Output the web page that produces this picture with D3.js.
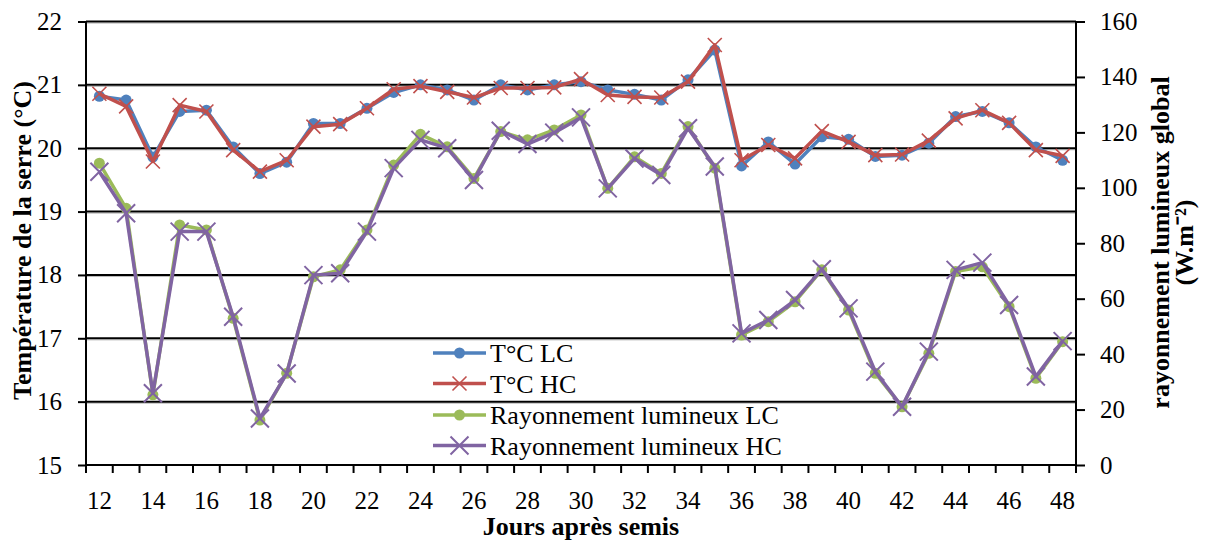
<!DOCTYPE html>
<html><head><meta charset="utf-8">
<script src="https://cdn.jsdelivr.net/npm/d3@7"></script>
<style>body{margin:0;background:#fff}svg{display:block}
svg text{font-family:"Liberation Serif","Times New Roman",serif !important;fill:#000}</style>
</head><body>
<svg id="c" width="1207" height="540"></svg>
<script>
const days = [12,13,14,15,16,17,18,19,20,21,22,23,24,25,26,27,28,29,30,31,32,33,34,35,36,37,38,39,40,41,42,43,44,45,46,47,48];
const tempLC = [20.82,20.76,19.86,20.58,20.60,20.02,19.60,19.78,20.39,20.39,20.63,20.88,21.00,20.92,20.76,21.00,20.92,21.00,21.05,20.92,20.85,20.76,21.08,21.55,19.72,20.10,19.75,20.18,20.14,19.87,19.89,20.08,20.50,20.58,20.40,20.02,19.81];
const tempHC = [20.86,20.66,19.79,20.68,20.58,19.97,19.63,19.81,20.34,20.38,20.63,20.93,20.98,20.89,20.80,20.95,20.95,20.96,21.09,20.84,20.81,20.80,21.05,21.63,19.81,20.05,19.84,20.27,20.10,19.89,19.90,20.12,20.47,20.60,20.40,19.97,19.88];
const radLC = [108.9,92.6,25.3,86.6,84.8,52.9,16.2,33.1,67.9,70.4,84.8,108.2,119.3,114.8,103.4,120.3,117.3,120.9,126.3,99.8,111.2,105.2,122.1,107.1,46.9,51.7,58.9,70.4,55.9,33.1,21.0,40.3,69.8,71.5,57.1,31.3,44.5];
const radHC = [105.8,90.8,25.9,84.2,84.2,53.5,16.8,33.0,68.5,69.2,84.2,107.1,117.3,114.3,102.8,120.6,115.8,119.9,125.4,99.8,110.6,104.6,121.5,107.7,47.5,52.3,59.5,70.6,56.5,33.7,21.0,40.9,70.4,73.0,57.7,31.9,44.7];
const leftTicks = [15,16,17,18,19,20,21,22];
const rightTicks = [0,20,40,60,80,100,120,140,160];
const xLabelDays = [12,14,16,18,20,22,24,26,28,30,32,34,36,38,40,42,44,46,48];
const seriesNames = ["T°C LC","T°C HC","Rayonnement lumineux LC","Rayonnement lumineux HC"];

const L=86, R=1076, T=21.5, B=465;
const svg = d3.select("#c");
const x = d3.scaleBand().domain(days).range([L,R]).padding(0);
const yL = d3.scaleLinear().domain([15,22]).range([B,T]);
const yR = d3.scaleLinear().domain([0,160]).range([B,T]);
const cx = d => x(d)+x.bandwidth()/2;

// gridlines
const g = svg.append("g");
leftTicks.filter(v=>v>15).forEach(v=>{
  g.append("line").attr("x1",L).attr("x2",R).attr("y1",yL(v)+1.6).attr("y2",yL(v)+1.6).attr("stroke","#bbb").attr("stroke-width",1);
  g.append("line").attr("x1",L).attr("x2",R).attr("y1",yL(v)).attr("y2",yL(v)).attr("stroke","#000").attr("stroke-width",2);
});

// axes
const axL = d3.axisLeft(yL).tickValues(leftTicks).tickSize(8).tickPadding(16).tickFormat(d3.format("d"));
const gL = svg.append("g").attr("transform",`translate(${L},0)`).call(axL);
const axR = d3.axisRight(yR).tickValues(rightTicks).tickSize(9).tickPadding(15).tickFormat(d3.format("d"));
const gR = svg.append("g").attr("transform",`translate(${R},0)`).call(axR);
const axB = d3.axisBottom(x).tickValues(xLabelDays).tickSize(0).tickPadding(26);
const gB = svg.append("g").attr("transform",`translate(0,${B})`).call(axB);
[gL,gR,gB].forEach(a=>{
  a.attr("font-family",null).attr("font-size",null);
  a.selectAll("path.domain").attr("stroke","#000").attr("stroke-width",2);
  a.selectAll(".tick line").attr("stroke","#000").attr("stroke-width",2);
  a.selectAll("text").style("font-size","25px").attr("fill","#000");
});
gL.selectAll(".domain").attr("d",`M0,${B}V${T}`);
gR.selectAll(".domain").attr("d",`M0,${B}V${T}`);
gB.selectAll(".domain").attr("d",`M${L},0H${R}`);
// category boundary ticks
const bounds = days.map(d=>x(d)).concat([R]);
svg.append("g").selectAll("line").data(bounds).join("line")
  .attr("x1",d=>d).attr("x2",d=>d).attr("y1",B).attr("y2",B+8)
  .attr("stroke","#000").attr("stroke-width",2);

// series
function lineSeries(vals, yS, color, width){
  const ln = d3.line().x((v,i)=>cx(days[i])).y(v=>yS(v));
  svg.append("path").datum(vals).attr("d",ln).attr("fill","none")
    .attr("stroke",color).attr("stroke-width",width).attr("stroke-linejoin","round");
}
function circles(vals,yS,color,r){
  svg.append("g").selectAll("circle").data(vals).join("circle")
    .attr("cx",(v,i)=>cx(days[i])).attr("cy",v=>yS(v)).attr("r",r).attr("fill",color);
}
function crosses(vals,yS,color,s,w){
  svg.append("g").selectAll("path").data(vals).join("path")
    .attr("d",(v,i)=>{const X=cx(days[i]),Y=yS(v);return `M${X-s},${Y-s}L${X+s},${Y+s}M${X-s},${Y+s}L${X+s},${Y-s}`;})
    .attr("stroke",color).attr("stroke-width",w).attr("fill","none");
}
const cBlue="#4F81BD", cRed="#C0504D", cGreen="#9BBB59", cPurple="#8064A2";
lineSeries(tempLC,yL,cBlue,3.5); circles(tempLC,yL,cBlue,5.5);
lineSeries(tempHC,yL,cRed,3.5); crosses(tempHC,yL,cRed,7,1.6);
lineSeries(radLC,yR,cGreen,3.5); circles(radLC,yR,cGreen,5.5);
lineSeries(radHC,yR,cPurple,3.5); crosses(radHC,yR,cPurple,9,2);

// legend
const lg = svg.append("g");
const legY = [353,383.5,415,445.5];
const legStyle = [
  {c:cBlue,m:"circle"},{c:cRed,m:"cross",s:7,w:1.6},{c:cGreen,m:"circle"},{c:cPurple,m:"cross",s:9,w:2}];
seriesNames.forEach((n,i)=>{
  const y=legY[i], st=legStyle[i];
  lg.append("line").attr("x1",433).attr("x2",486).attr("y1",y).attr("y2",y).attr("stroke",st.c).attr("stroke-width",3.5);
  if(st.m==="circle") lg.append("circle").attr("cx",459.5).attr("cy",y).attr("r",5.5).attr("fill",st.c);
  else lg.append("path").attr("d",`M${459.5-st.s},${y-st.s}L${459.5+st.s},${y+st.s}M${459.5-st.s},${y+st.s}L${459.5+st.s},${y-st.s}`).attr("stroke",st.c).attr("stroke-width",st.w);
  lg.append("text").attr("x",490).attr("y",y).attr("dy","0.35em").style("font-size","26px").text(n);
});

// titles
function title(tr, txt){
  return svg.append("text").attr("transform",tr).attr("text-anchor","middle")
    .style("font-size","26px").style("font-weight","bold").text(txt);
}
title("translate(31,240.5) rotate(-90)","Température de la serre (°C)");
title("translate(1169,242.5) rotate(-90)","rayonnement lumineux global");
title("translate(1193,242.5) rotate(-90)","(W.m⁻²)");
title("translate(581,535)","Jours après semis");
</script>
</body></html>
